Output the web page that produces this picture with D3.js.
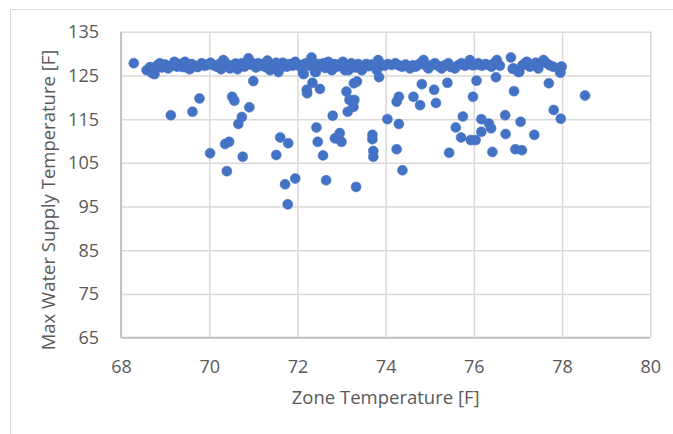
<!DOCTYPE html>
<html>
<head>
<meta charset="utf-8">
<script src="https://cdn.jsdelivr.net/npm/d3@7"></script>
<style>
  html, body { margin: 0; padding: 0; background: #fff; }
  svg { display: block; }
  text { font-family: "Open Sans", "Noto Sans", sans-serif; fill: #595959; }
</style>
</head>
<body>
<svg id="chart" width="673" height="434"></svg>
<script>
// Zone temperature [F] (x) for each observation
const zoneTemp = [
  68.29, 68.58, 68.66, 68.70, 68.71, 68.76, 68.76, 68.82, 68.88, 68.88, 68.92, 69.00, 69.07, 69.13, 69.21, 69.27,
  69.33, 69.40, 69.45, 69.49, 69.56, 69.60, 69.68, 69.74, 69.83, 69.90, 69.97, 70.03, 70.10, 70.17, 70.23, 70.27,
  70.32, 70.36, 70.40, 70.47, 70.53, 70.60, 70.64, 70.70, 70.74, 70.80, 70.89, 70.93, 70.96, 71.00, 71.06, 71.11,
  71.17, 71.23, 71.28, 71.32, 71.38, 71.42, 71.47, 71.52, 71.57, 71.61, 71.67, 71.72, 71.76, 71.82, 71.89, 71.95,
  72.00, 72.06, 72.13, 72.15, 72.21, 72.27, 72.32, 72.36, 72.40, 72.42, 72.47, 72.53, 72.59, 72.63, 72.70, 72.74,
  72.78, 72.84, 72.89, 72.95, 73.03, 73.08, 73.12, 73.16, 73.22, 73.27, 73.32, 73.38, 73.46, 73.50, 73.56, 73.62,
  73.68, 73.76, 73.80, 73.83, 73.90, 73.97, 74.05, 74.14, 74.22, 74.30, 74.37, 74.45, 74.55, 74.62, 74.68, 74.74,
  74.80, 74.86, 74.92, 74.97, 75.05, 75.12, 75.20, 75.27, 75.34, 75.42, 75.48, 75.57, 75.64, 75.72, 75.80, 75.86,
  75.91, 75.97, 76.03, 76.10, 76.18, 76.26, 76.33, 76.40, 76.46, 76.52, 76.59, 76.84, 76.88, 76.90, 77.01, 77.03,
  77.10, 77.15, 77.20, 77.27, 77.34, 77.40, 77.46, 77.52, 77.58, 77.65, 77.72, 77.80, 77.96, 77.96, 77.99, 77.98,
  // scattered lower points
  69.13, 69.62, 69.78, 70.02, 70.36, 70.45, 70.40, 70.52, 70.57, 70.76, 70.66, 70.74, 70.91, 71.00, 71.52, 71.61,
  71.79, 71.72, 71.78, 71.95, 72.14, 72.21, 72.22, 72.34, 72.42, 72.51, 72.43, 72.46, 72.58, 72.65, 72.80, 72.85,
  72.92, 72.96, 73.00, 73.11, 73.14, 73.28, 73.18, 73.29, 73.27, 73.33, 73.35, 73.70, 73.70, 73.72, 73.72, 73.85,
  74.04, 74.25, 74.30, 74.25, 74.30, 74.38, 74.63, 74.78, 74.82, 75.10, 75.14, 75.40, 75.44, 75.59, 75.75, 75.71,
  75.93, 76.04, 75.98, 76.06, 76.17, 76.17, 76.34, 76.39, 76.42, 76.50, 76.71, 76.72, 76.91, 76.94, 77.09, 77.06,
  77.37, 77.70, 77.81, 77.97, 78.52
];
// Max water supply temperature [F] (y) for each observation
const maxSupplyTemp = [
  127.8, 126.2, 126.9, 126.4, 125.5, 125.3, 126.4, 127.3, 127.8, 127.0, 126.8, 127.5, 126.6, 127.2, 128.1, 127.0,
  127.6, 126.9, 128.1, 126.8, 126.4, 127.6, 127.2, 126.9, 127.8, 127.2, 127.5, 127.9, 127.3, 127.0, 127.6, 126.4,
  128.5, 128.0, 127.4, 126.6, 127.3, 127.7, 126.4, 127.2, 127.8, 127.0, 128.9, 127.5, 127.9, 127.4, 126.8, 127.8,
  127.2, 127.6, 126.9, 128.4, 126.2, 127.0, 127.2, 127.9, 125.8, 126.7, 127.9, 127.3, 127.0, 127.6, 127.2, 128.1,
  127.5, 127.0, 125.5, 127.6, 127.8, 127.2, 129.1, 127.9, 125.8, 127.0, 127.6, 127.2, 127.8, 126.7, 128.1, 127.3,
  126.2, 127.6, 127.0, 127.5, 128.1, 126.2, 127.3, 126.2, 127.8, 127.4, 126.8, 127.6, 126.2, 127.2, 127.6, 127.1,
  127.5, 127.0, 126.2, 128.5, 127.6, 127.2, 127.6, 127.4, 127.8, 127.3, 127.0, 127.5, 126.6, 127.3, 127.0, 127.4,
  127.9, 128.5, 127.2, 126.6, 127.4, 127.8, 127.1, 126.6, 127.3, 127.8, 126.9, 126.6, 127.3, 127.8, 127.2, 127.6,
  128.5, 127.3, 127.4, 127.8, 127.2, 127.6, 127.4, 127.0, 127.8, 128.5, 127.2, 129.1, 126.5, 126.6, 125.8, 125.8,
  127.3, 127.7, 128.1, 127.0, 127.5, 127.9, 126.6, 127.8, 128.5, 127.8, 127.3, 127.0, 125.8, 125.6, 127.0, 127.0,
  // scattered lower points
  115.9, 116.7, 119.7, 107.2, 109.3, 109.8, 103.1, 120.1, 119.2, 106.4, 113.9, 115.5, 117.7, 123.7, 106.8, 110.8,
  109.5, 100.1, 95.5, 101.4, 125.3, 121.7, 120.9, 123.3, 125.8, 121.9, 113.1, 109.8, 106.7, 101.0, 115.8, 110.6,
  110.9, 111.8, 109.8, 121.3, 116.7, 123.2, 119.4, 119.4, 117.8, 99.5, 123.6, 111.4, 110.4, 107.7, 106.4, 124.6,
  115.0, 108.1, 113.9, 119.0, 120.1, 103.3, 120.1, 118.2, 123.0, 121.7, 118.7, 123.3, 107.3, 113.1, 115.6, 110.8,
  110.2, 110.2, 120.1, 123.8, 115.0, 112.1, 114.0, 112.9, 107.5, 124.6, 115.9, 111.6, 121.4, 108.1, 107.9, 114.4,
  111.4, 123.2, 117.1, 115.1, 120.4
];
const xTicks = [68, 70, 72, 74, 76, 78, 80];
const yTicks = [65, 75, 85, 95, 105, 115, 125, 135];
const xTitle = "Zone Temperature [F]";
const yTitle = "Max Water Supply Temperature [F]";

const svg = d3.select("#chart");
const W = 673, H = 434;
const plot = { left: 121, right: 650.3, top: 31.7, bottom: 337.7 };

// outer chart border (extends past the visible canvas on right/bottom)
svg.append("rect")
  .attr("x", 10.5).attr("y", 9.5).attr("width", 720).attr("height", 500)
  .attr("fill", "#fff").attr("stroke", "#d9d9d9").attr("stroke-width", 1);

const x = d3.scaleLinear().domain([68, 80]).range([plot.left, plot.right]);
const y = d3.scaleLinear().domain([65, 135]).range([plot.bottom, plot.top]);

// gridlines
const gx = svg.append("g").attr("transform", `translate(0,${plot.bottom})`)
  .call(d3.axisBottom(x).tickValues(xTicks).tickSize(-(plot.bottom - plot.top)).tickFormat(""));
gx.select(".domain").remove();
gx.selectAll("line").attr("stroke", "#d9d9d9").attr("stroke-width", 1.5);

const gy = svg.append("g").attr("transform", `translate(${plot.left},0)`)
  .call(d3.axisLeft(y).tickValues(yTicks).tickSize(-(plot.right - plot.left)).tickFormat(""));
gy.select(".domain").remove();
gy.selectAll("line").attr("stroke", "#d9d9d9").attr("stroke-width", 1.5);

// axis lines
svg.append("line").attr("x1", plot.left).attr("x2", plot.left)
  .attr("y1", plot.top).attr("y2", plot.bottom)
  .attr("stroke", "#bfbfbf").attr("stroke-width", 1.8);
svg.append("line").attr("x1", plot.left).attr("x2", plot.right)
  .attr("y1", plot.bottom).attr("y2", plot.bottom)
  .attr("stroke", "#bfbfbf").attr("stroke-width", 1.8);

// tick labels
const xl = svg.append("g").attr("transform", `translate(0,${plot.bottom + 35})`)
  .call(d3.axisBottom(x).tickValues(xTicks).tickSize(0).tickPadding(0).tickFormat(d3.format("d")));
xl.select(".domain").remove();
xl.selectAll("text").attr("dy", 0).attr("font-size", 18).attr("fill", "#595959")
  .style("font-family", '"Open Sans", sans-serif');

const yl = svg.append("g").attr("transform", `translate(${plot.left - 22},0)`)
  .call(d3.axisLeft(y).tickValues(yTicks).tickSize(0).tickPadding(0).tickFormat(d3.format("d")));
yl.select(".domain").remove();
yl.selectAll("text").attr("dy", "0.33em").attr("font-size", 18).attr("fill", "#595959")
  .style("font-family", '"Open Sans", sans-serif');

// axis titles
svg.append("text").attr("x", (plot.left + plot.right) / 2).attr("y", 404)
  .attr("text-anchor", "middle").attr("font-size", 18.5).text(xTitle);
svg.append("text").attr("transform", "translate(55,200) rotate(-90)")
  .attr("text-anchor", "middle").attr("font-size", 18.5).text(yTitle);

// points
const pts = zoneTemp.map((v, i) => ({ x: v, y: maxSupplyTemp[i] }));
svg.append("g").selectAll("circle").data(pts).join("circle")
  .attr("cx", d => x(d.x)).attr("cy", d => y(d.y)).attr("r", 5)
  .attr("fill", "#4472C4").attr("stroke", "#4472C4").attr("stroke-width", 0.5);
</script>
</body>
</html>
